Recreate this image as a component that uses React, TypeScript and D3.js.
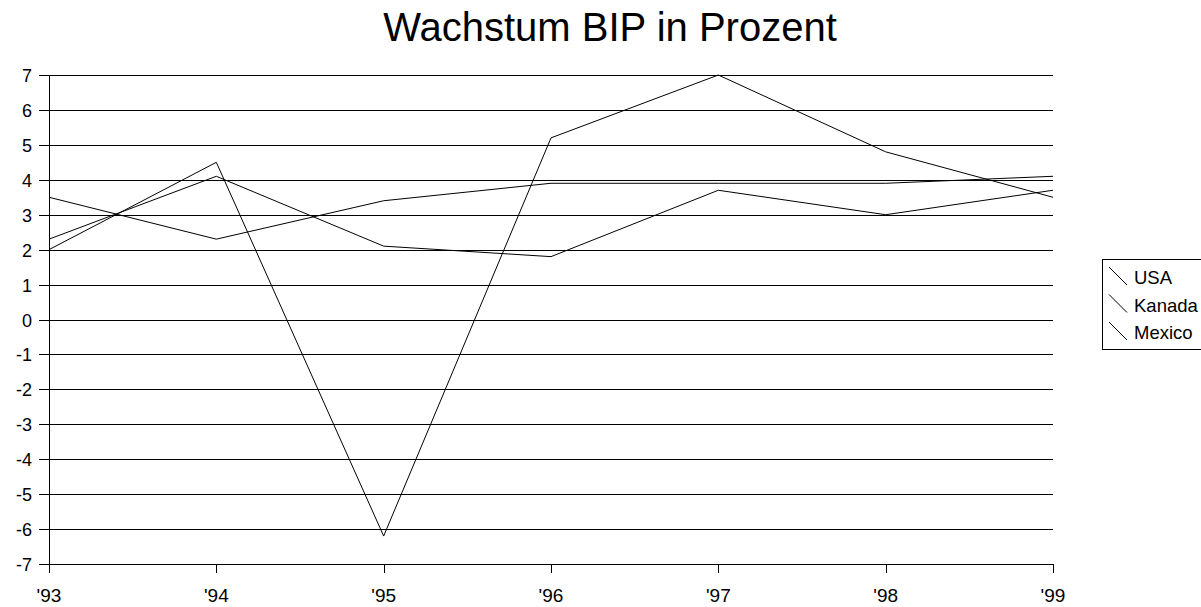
import * as React from 'react';
import * as d3 from 'd3';

const years = ["'93", "'94", "'95", "'96", "'97", "'98", "'99"];
const usa = [3.5, 2.3, 3.4, 3.9, 3.9, 3.9, 4.1];
const kanada = [2.3, 4.1, 2.1, 1.8, 3.7, 3.0, 3.7];
const mexico = [2.0, 4.5, -6.2, 5.2, 7.0, 4.8, 3.5];
const seriesNames = ['USA', 'Kanada', 'Mexico'];
const yTicks = d3.range(-7, 8);

const W = 1201;
const H = 607;
const left = 49;
const right = 1053;
const top = 75;
const bottom = 564;

const App = () => {
    const x = d3.scalePoint<string>().domain(years).range([left, right]);
    const y = d3.scaleLinear().domain([-7, 7]).range([bottom, top]);
    const line = d3.line<number>()
        .x((d, i) => x(years[i]) as number)
        .y(d => y(d));
    const series = [usa, kanada, mexico];
    const font = '"Liberation Sans", Arial, sans-serif';

    return (
        <svg width={W} height={H} style={{position: 'absolute', left: 0, top: 0, background: '#fff'}}
             fontFamily={font}>
            <text x={610} y={41} textAnchor="middle" fontSize={40}>Wachstum BIP in Prozent</text>

            {yTicks.map(t => (
                <g key={t}>
                    <line x1={left - 10} x2={right} y1={Math.round(y(t)) + 0.5} y2={Math.round(y(t)) + 0.5}
                          stroke="#000" strokeWidth={1}/>
                    <text x={32} y={Math.round(y(t)) + 7} textAnchor="end" fontSize={18}>{t}</text>
                </g>
            ))}

            <line x1={left + 0.5} x2={left + 0.5} y1={top} y2={bottom + 9} stroke="#000"/>
            {years.map(yr => (
                <g key={yr}>
                    <line x1={Math.round(x(yr) as number) + 0.5} x2={Math.round(x(yr) as number) + 0.5}
                          y1={bottom} y2={bottom + 9} stroke="#000"/>
                    <text x={x(yr)} y={602} textAnchor="middle" fontSize={19}>{yr}</text>
                </g>
            ))}

            {series.map((s, i) => (
                <path key={i} d={line(s) as string} fill="none" stroke="#000" strokeWidth={1}/>
            ))}

            <rect x={1102.5} y={259.5} width={99} height={90} fill="none" stroke="#000"/>
            {seriesNames.map((n, i) => (
                <g key={n}>
                    <line x1={1109} y1={267 + i * 27.5} x2={1127} y2={285 + i * 27.5} stroke="#000"/>
                    <text x={1134} y={284 + i * 27.5} fontSize={18.5}>{n}</text>
                </g>
            ))}
        </svg>
    );
};

export default App;
